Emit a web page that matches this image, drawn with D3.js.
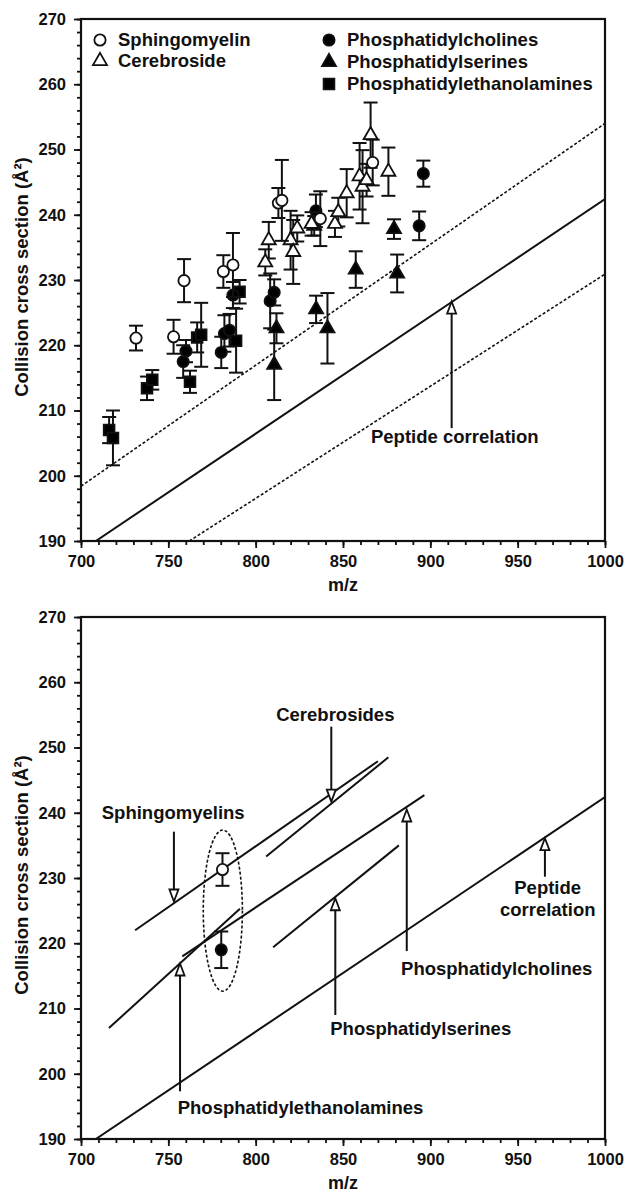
<!DOCTYPE html>
<html>
<head>
<meta charset="utf-8">
<script src="https://cdn.jsdelivr.net/npm/d3@7"></script>
<style>
  body { margin: 0; background: #fff; }
  text { font-family: "Liberation Sans", Arial, sans-serif; font-weight: bold; fill: #111; }
</style>
</head>
<body>
<script>
// ---- data (m/z, collision cross section in A^2, error) ----
const smMz  = [731.5, 753.0, 759.0, 781.5, 787.0, 813.0, 815.0, 837.0, 867.0];
const smCcs = [221.1, 221.3, 229.9, 231.3, 232.3, 241.8, 242.2, 239.4, 248.0];
const smErr = [1.9, 2.6, 3.3, 2.5, 4.9, 2.3, 6.2, 4.2, 3.5];

const cbMz  = [805.5, 807.5, 820.0, 821.5, 823.8, 832.0, 845.4, 847.3, 852.1, 859.5, 861.2, 863.5, 865.8, 876.0];
const cbCcs = [232.7, 236.1, 236.1, 234.3, 237.9, 238.6, 238.6, 240.4, 243.3, 245.9, 244.3, 245.3, 252.2, 246.6];
const cbErr = [2.0, 2.8, 4.5, 4.9, 2.0, 1.8, 2.0, 2.2, 3.7, 5.1, 5.6, 2.5, 5.0, 3.7];

const pcMz  = [758.5, 760.1, 780.3, 782.1, 785.0, 787.0, 808.3, 810.6, 834.5, 893.6, 896.0];
const pcCcs = [217.5, 219.1, 218.9, 221.8, 222.3, 227.7, 226.8, 228.1, 240.6, 238.3, 246.3];
const pcErr = [2.5, 1.7, 2.4, 2.8, 2.5, 2.0, 4.2, 2.0, 2.5, 2.2, 2.0];

const psMz  = [810.6, 811.9, 833.5, 834.6, 841.1, 857.3, 879.2, 881.0];
const psCcs = [217.0, 222.6, 238.3, 225.5, 222.6, 231.6, 237.8, 231.0];
const psErr = [5.4, 2.3, 1.5, 2.1, 5.4, 2.8, 1.5, 2.9];

const peMz  = [716.1, 718.3, 737.8, 740.8, 762.4, 766.5, 768.8, 788.8, 790.8];
const peCcs = [207.0, 205.8, 213.4, 214.7, 214.4, 221.2, 221.6, 220.7, 228.2];
const peErr = [2.0, 4.2, 1.8, 1.5, 1.7, 2.3, 4.9, 4.9, 1.8];

// peptide correlation and its band (top panel): [mz0, ccs0, mz1, ccs1]
const peptideLine = [708.5, 190.0, 1000, 242.4];
const bandUpper   = [700, 198.4, 1000, 254.0];
const bandLower   = [762, 190.0, 1000, 230.9];

// class trend lines (bottom panel)
const trendNames = ["Sphingomyelins", "Cerebrosides", "Phosphatidylcholines", "Phosphatidylethanolamines", "Phosphatidylserines", "Peptide"];
const trendLines = [
  [731, 222.0, 870, 247.9],
  [806, 233.3, 876, 248.5],
  [758, 218.0, 896.6, 242.7],
  [716, 207.0, 791, 225.3],
  [810, 219.4, 882, 235.0],
  [708.5, 190.0, 1000, 242.4]
];

// bottom panel example points (m/z 780)
const exMz  = [781.0, 780.3];
const exCcs = [231.3, 219.0];
const exErr = [2.5, 2.8];
const exKind = ["sm", "pc"];
const ellipse = [781.2, 225.0, 11.2, 12.35]; // cx, cy, rx (m/z), ry (A^2)

// annotations: label lines, text m/z, text ccs, arrow m/z, arrow tail, arrow head
const annTop = [
  { text: ["Peptide correlation"], tx: 914, ty: [205.0], ax: 912.2, a0: 207.3, a1: 226.7 }
];
const annBot = [
  { text: ["Cerebrosides"], tx: 845.6, ty: [254.0], ax: 843.3, a0: 253.2, a1: 241.7 },
  { text: ["Sphingomyelins"], tx: 752.8, ty: [239.0], ax: 753.2, a0: 237.1, a1: 226.4 },
  { text: ["Peptide", "correlation"], tx: 967.2, ty: [227.5, 224.2], ax: 965.6, a0: 230.2, a1: 236.1 },
  { text: ["Phosphatidylcholines"], tx: 938, ty: [215.1], ax: 886.5, a0: 218.8, a1: 240.5 },
  { text: ["Phosphatidylserines"], tx: 894.5, ty: [205.9], ax: 845.6, a0: 209.0, a1: 226.9 },
  { text: ["Phosphatidylethanolamines"], tx: 825.7, ty: [193.9], ax: 756.7, a0: 197.3, a1: 216.9 }
];

const xMajor = d3.range(700, 1001, 50);
const xMinor = d3.range(700, 1001, 10);
const yMajor = d3.range(190, 271, 10);
const yMinor = d3.range(190, 271, 2);

// ---- layout ----
const svg = d3.select("body").append("svg").attr("width", 628).attr("height", 1194);
const x = d3.scaleLinear().domain([700, 1000]).range([81, 605]);
const yTop = d3.scaleLinear().domain([190, 270]).range([541, 19]);
const yBot = d3.scaleLinear().domain([190, 270]).range([1139, 617]);

const sym = {
  sm: { type: d3.symbolCircle, size: 100, fill: "#fff" },
  cb: { type: d3.symbolTriangle, size: 85, fill: "#fff" },
  pc: { type: d3.symbolCircle, size: 100, fill: "#000" },
  ps: { type: d3.symbolTriangle, size: 85, fill: "#000" },
  pe: { type: d3.symbolSquare, size: 115, fill: "#000" }
};

function axes(y, id) {
  const g = svg.append("g");
  const y0 = y.range()[0], y1 = y.range()[1];
  g.append("clipPath").attr("id", id).append("rect")
    .attr("x", 81).attr("y", y1).attr("width", 524).attr("height", y0 - y1);

  g.append("g").attr("transform", `translate(0,${y0})`)
    .call(d3.axisBottom(x).tickValues(xMinor).tickSize(4).tickFormat(""))
    .call(a => a.select(".domain").remove());
  g.append("g").attr("transform", `translate(0,${y0})`)
    .call(d3.axisBottom(x).tickValues(xMajor).tickSize(7).tickPadding(7).tickFormat(d3.format("d")))
    .call(a => a.select(".domain").remove())
    .call(a => a.selectAll("text").attr("font-size", 16.5));
  g.append("g").attr("transform", "translate(81,0)")
    .call(d3.axisLeft(y).tickValues(yMinor).tickSize(4).tickFormat(""))
    .call(a => a.select(".domain").remove());
  g.append("g").attr("transform", "translate(81,0)")
    .call(d3.axisLeft(y).tickValues(yMajor).tickSize(7).tickPadding(8).tickFormat(d3.format("d")))
    .call(a => a.select(".domain").remove())
    .call(a => a.selectAll("text").attr("font-size", 16.5));
  g.selectAll(".tick line").attr("stroke", "#111").attr("stroke-width", 1.8);
  g.selectAll(".tick text").attr("fill", "#111").attr("font-family", "Liberation Sans, Arial, sans-serif").attr("font-weight", "bold");

  g.append("rect").attr("x", 81).attr("y", y1).attr("width", 524).attr("height", y0 - y1)
    .attr("fill", "none").attr("stroke", "#111").attr("stroke-width", 2.2);

  g.append("text").attr("x", 343).attr("y", y0 + 50).attr("text-anchor", "middle")
    .attr("font-size", 18).text("m/z");
  g.append("text").attr("transform", `translate(28,${(y0 + y1) / 2 - 3}) rotate(-90)`)
    .attr("text-anchor", "middle").attr("font-size", 18.5).text("Collision cross section (Å²)");
}

function seg(g, y, s, dashed, clip) {
  g.append("line")
    .attr("x1", x(s[0])).attr("y1", y(s[1])).attr("x2", x(s[2])).attr("y2", y(s[3]))
    .attr("stroke", "#111").attr("stroke-width", dashed ? 1.6 : 2)
    .attr("stroke-dasharray", dashed ? "3,2" : null)
    .attr("clip-path", clip ? `url(#${clip})` : null);
}

function points(g, y, mz, ccs, err, kind) {
  const cap = 7;
  mz.forEach((m, i) => {
    const px = x(m), lo = y(ccs[i] - err[i]), hi = y(ccs[i] + err[i]);
    g.append("line").attr("x1", px).attr("x2", px).attr("y1", lo).attr("y2", hi)
      .attr("stroke", "#111").attr("stroke-width", 2);
    [lo, hi].forEach(v => g.append("line").attr("x1", px - cap).attr("x2", px + cap)
      .attr("y1", v).attr("y2", v).attr("stroke", "#111").attr("stroke-width", 2));
  });
  mz.forEach((m, i) => {
    const s = sym[kind];
    g.append("path").attr("d", d3.symbol().type(s.type).size(s.size)())
      .attr("transform", `translate(${x(m)},${y(ccs[i])})`)
      .attr("fill", s.fill).attr("stroke", "#111").attr("stroke-width", 1.8);
  });
}

function arrow(g, y, a) {
  const px = x(a.ax), t = y(a.a0), h = y(a.a1);
  const dir = h < t ? 1 : -1; // 1: pointing up
  const len = 12, hw = 4.5;
  const base = h + dir * len;
  g.append("line").attr("x1", px).attr("x2", px).attr("y1", t).attr("y2", base)
    .attr("stroke", "#111").attr("stroke-width", 2);
  g.append("path").attr("d", `M${px},${h}L${px - hw},${base}L${px + hw},${base}Z`)
    .attr("fill", "#fff").attr("stroke", "#111").attr("stroke-width", 1.8);
  a.text.forEach((s, i) => g.append("text").attr("x", x(a.tx)).attr("y", y(a.ty[i]))
    .attr("text-anchor", "middle").attr("font-size", 18.5).text(s));
}

// ---- top panel ----
axes(yTop, "clipTop");
const topG = svg.append("g");
seg(topG, yTop, bandUpper, true, "clipTop");
seg(topG, yTop, peptideLine, false, "clipTop");
seg(topG, yTop, bandLower, true, "clipTop");
points(topG, yTop, peMz, peCcs, peErr, "pe");
points(topG, yTop, pcMz, pcCcs, pcErr, "pc");
points(topG, yTop, psMz, psCcs, psErr, "ps");
points(topG, yTop, cbMz, cbCcs, cbErr, "cb");
points(topG, yTop, smMz, smCcs, smErr, "sm");
annTop.forEach(a => arrow(topG, yTop, a));

// legend
const legend = [
  { k: "sm", label: "Sphingomyelin", lx: 100, ly: 46 },
  { k: "cb", label: "Cerebroside", lx: 100, ly: 67 },
  { k: "pc", label: "Phosphatidylcholines", lx: 329, ly: 46 },
  { k: "ps", label: "Phosphatidylserines", lx: 329, ly: 68 },
  { k: "pe", label: "Phosphatidylethanolamines", lx: 329, ly: 90 }
];
legend.forEach(d => {
  const s = sym[d.k];
  topG.append("path").attr("d", d3.symbol().type(s.type).size(s.size)())
    .attr("transform", `translate(${d.lx},${d.ly - 6})`)
    .attr("fill", s.fill).attr("stroke", "#111").attr("stroke-width", 1.8);
  topG.append("text").attr("x", d.lx + 18).attr("y", d.ly).attr("font-size", 18.5).text(d.label);
});

// ---- bottom panel ----
axes(yBot, "clipBot");
const botG = svg.append("g");
trendLines.forEach(s => seg(botG, yBot, s, false, "clipBot"));
botG.append("ellipse")
  .attr("cx", x(ellipse[0])).attr("cy", yBot(ellipse[1]))
  .attr("rx", x(ellipse[0] + ellipse[2]) - x(ellipse[0]))
  .attr("ry", yBot(ellipse[1] - ellipse[3]) - yBot(ellipse[1]))
  .attr("fill", "none").attr("stroke", "#111").attr("stroke-width", 1.6).attr("stroke-dasharray", "3,2");
exMz.forEach((m, i) => points(botG, yBot, [m], [exCcs[i]], [exErr[i]], exKind[i]));
annBot.forEach(a => arrow(botG, yBot, a));
</script>
</body>
</html>
